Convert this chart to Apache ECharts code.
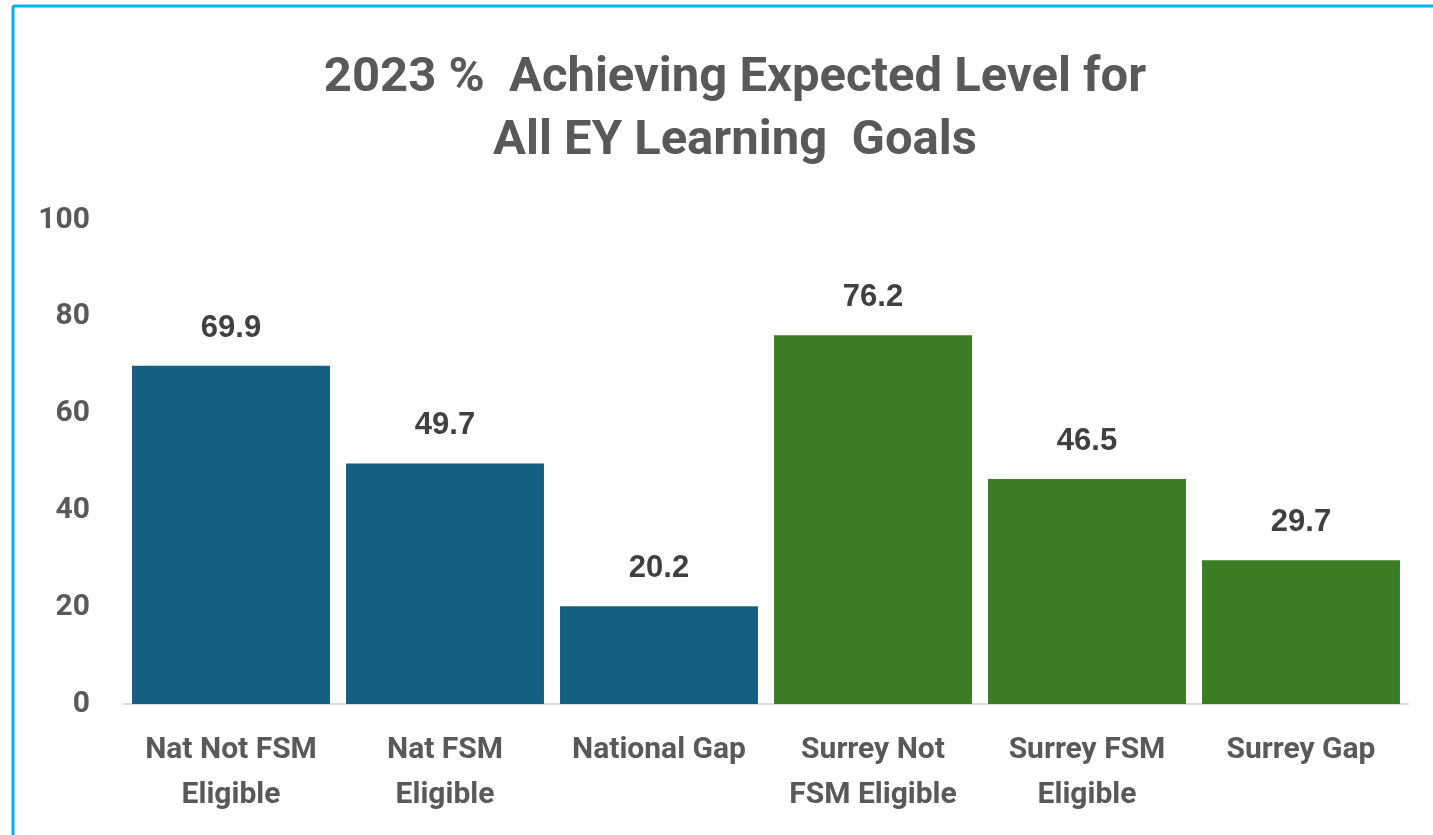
<!DOCTYPE html>
<html style="height: 100%">
<head>
<meta charset="UTF-8" />
<title>2023 % Achieving Expected Level</title>
<style>
html, body { margin: 0; padding: 0; background: #ffffff; }
#chartBox { width: 1433px; height: 835px; }
</style>
</head>
<body>
	<div id="chartBox"></div>
	<script src="https://cdn.jsdelivr.net/npm/echarts@6/dist/echarts.min.js"></script>
	<script>
		// data
		var categories = ['Nat Not FSM\nEligible', 'Nat FSM\nEligible', 'National Gap',
			'Surrey Not\nFSM Eligible', 'Surrey FSM\nEligible', 'Surrey Gap'];
		var values = [69.9, 49.7, 20.2, 76.2, 46.5, 29.7];
		var barColors = ['#156082', '#156082', '#156082', '#3b7d23', '#3b7d23', '#3b7d23'];
		var yTicks = [0, 20, 40, 60, 80, 100];

		var fontName = 'Roboto';
		var myChart = echarts.init(document.getElementById('chartBox'));

		var option = {
			animation: false,
			title: {
				text: '2023 %  Achieving Expected Level for\nAll EY Learning  Goals',
				left: 730,
				textAlign: 'center',
				top: 42,
				textStyle: {
					color: '#595959',
					fontFamily: fontName,
					fontWeight: 'bold',
					fontSize: 49,
					lineHeight: 63
				}
			},
			graphic: [
				{ type: 'line', shape: { x1: 13, y1: 6, x2: 1433, y2: 6 }, style: { stroke: '#00b0f0', lineWidth: 3 } },
				{ type: 'line', shape: { x1: 13, y1: 6, x2: 13, y2: 835 }, style: { stroke: '#00b0f0', lineWidth: 3 } }
			],
			grid: {
				left: 124,
				right: 25,
				top: 220,
				bottom: 131
			},
			xAxis: {
				type: 'category',
				data: categories,
				axisLine: { lineStyle: { color: '#d9d9d9', width: 2 } },
				axisTick: { show: false },
				axisLabel: {
					interval: 0,
					hideOverlap: false,
					color: '#595959',
					fontFamily: fontName,
					fontWeight: 'bold',
					fontSize: 30,
					lineHeight: 45,
					margin: 24
				}
			},
			yAxis: {
				type: 'value',
				min: yTicks[0],
				max: yTicks[yTicks.length - 1],
				interval: 20,
				splitLine: { show: false },
				axisLine: { show: false },
				axisTick: { show: false },
				axisLabel: {
					color: '#595959',
					fontFamily: fontName,
					fontWeight: 'bold',
					fontSize: 30,
					margin: 34
				}
			},
			series: [{
				type: 'bar',
				barCategoryGap: '7.5%',
				data: values.map(function (v, i) {
					return { value: v, itemStyle: { color: barColors[i] } };
				}),
				label: {
					show: true,
					position: 'top',
					distance: 22,
					color: '#404040',
					fontFamily: 'Liberation Sans',
					fontWeight: 'bold',
					fontSize: 31
				}
			}]
		};
		myChart.setOption(option);
	</script>
</body>
</html>
